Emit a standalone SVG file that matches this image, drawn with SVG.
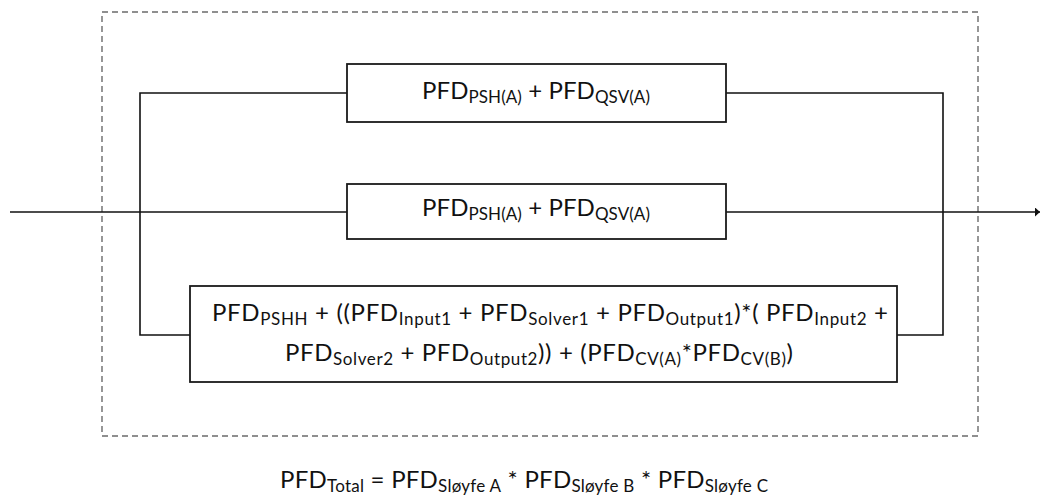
<svg xmlns="http://www.w3.org/2000/svg" width="1041" height="497" viewBox="0 0 1041 497">
  <style>
    .box { fill: #ffffff; stroke: #1a1a1a; stroke-width: 1.8; }
    .wire { fill: none; stroke: #111111; stroke-width: 1.6; }
    .frame { fill: none; stroke: #6b6b6b; stroke-width: 1.4; stroke-dasharray: 6 4; }
    .t { font-family: Lato, "Liberation Sans", sans-serif; font-size: 24px; fill: #111111; text-anchor: middle; }
    .s { font-size: 17px; }
  </style>
  <defs>
    <marker id="arrow" viewBox="0 0 5 9" refX="5" refY="4.5" markerWidth="5" markerHeight="9" markerUnits="userSpaceOnUse" orient="auto">
      <path d="M0,0 L5,4.5 L0,9 Z" fill="#111111"/>
    </marker>
  </defs>

  <!-- dashed system boundary -->
  <rect class="frame" x="102" y="12" width="876" height="424"/>

  <!-- connectors -->
  <g id="connectors">
    <path class="wire" d="M10,212 H347"/>
    <path class="wire" d="M726,212 H1040" marker-end="url(#arrow)"/>
    <path class="wire" d="M347,93 H140 V335 H190"/>
    <path class="wire" d="M726,93 H943 V335 H897"/>
  </g>

  <g id="loop-a">
    <rect class="box" x="347" y="64" width="379" height="58"/>
    <text class="t" x="536" y="99" textLength="228" lengthAdjust="spacing">PFD<tspan class="s" dy="4">PSH(A)</tspan><tspan dy="-4"> + PFD</tspan><tspan class="s" dy="4">QSV(A)</tspan></text>
  </g>

  <g id="loop-b">
    <rect class="box" x="347" y="184" width="379" height="55"/>
    <text class="t" x="536" y="216" textLength="228" lengthAdjust="spacing">PFD<tspan class="s" dy="4">PSH(A)</tspan><tspan dy="-4"> + PFD</tspan><tspan class="s" dy="4">QSV(A)</tspan></text>
  </g>

  <g id="loop-c">
    <rect class="box" x="190" y="286" width="707" height="96"/>
    <text class="t" x="550" y="321" textLength="676" lengthAdjust="spacing">PFD<tspan class="s" dy="4">PSHH</tspan><tspan dy="-4"> + ((PFD</tspan><tspan class="s" dy="4">Input1</tspan><tspan dy="-4"> + PFD</tspan><tspan class="s" dy="4">Solver1</tspan><tspan dy="-4"> + PFD</tspan><tspan class="s" dy="4">Output1</tspan><tspan dy="-4">)*( PFD</tspan><tspan class="s" dy="4">Input2</tspan><tspan dy="-4"> +</tspan></text>
    <text class="t" x="539" y="361" textLength="508" lengthAdjust="spacing">PFD<tspan class="s" dy="4">Solver2</tspan><tspan dy="-4"> + PFD</tspan><tspan class="s" dy="4">Output2</tspan><tspan dy="-4">)) + (PFD</tspan><tspan class="s" dy="4">CV(A)</tspan><tspan dy="-4">*PFD</tspan><tspan class="s" dy="4">CV(B)</tspan><tspan dy="-4">)</tspan></text>
  </g>

  <g id="total">
    <text class="t" x="524" y="488" textLength="488" lengthAdjust="spacing">PFD<tspan class="s" dy="4">Total</tspan><tspan dy="-4"> = PFD</tspan><tspan class="s" dy="4">Sløyfe A</tspan><tspan dy="-4"> * PFD</tspan><tspan class="s" dy="4">Sløyfe B</tspan><tspan dy="-4"> * PFD</tspan><tspan class="s" dy="4">Sløyfe C</tspan></text>
  </g>
</svg>
